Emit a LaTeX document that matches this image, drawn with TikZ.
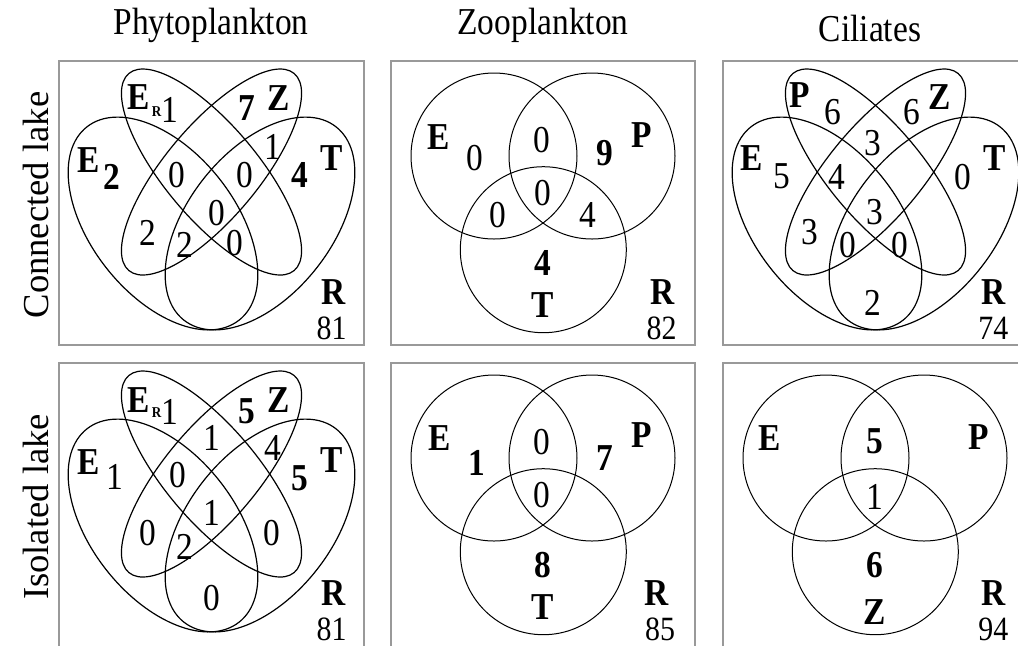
\documentclass[tikz,border=0pt]{standalone}
\usepackage{fontspec}
\setmainfont{Liberation Serif}[FakeStretch=0.88]
\newfontfamily\rowfont{Liberation Serif}
\definecolor{framegray}{gray}{0.6}
\begin{document}
\begin{tikzpicture}[x=0.5pt,y=-0.5pt,
  set/.style={line width=0.6pt},
  ring/.style={line width=0.5pt},
  panel/.style={draw=framegray,line width=1pt},
  lbl/.style={font=\fontsize{19}{19}\selectfont\bfseries,inner sep=0pt},
  num/.style={font=\fontsize{19}{19}\selectfont,inner sep=0pt},
  tot/.style={font=\fontsize{17}{17}\selectfont,inner sep=0pt},
  sub/.style={font=\fontsize{7.5}{7.5}\selectfont\bfseries,inner sep=0pt},
  head/.style={font=\fontsize{19}{19}\selectfont,inner sep=0pt},
  side/.style={font=\fontsize{18.3}{18.3}\rowfont,inner sep=0pt,rotate=90}]
\useasboundingbox (0,0) rectangle (1018,645);
\draw[panel] (59,61) rectangle (364,345);
\draw[panel] (391,61) rectangle (695,345);
\draw[panel] (723,61) rectangle (1030,345);
\draw[panel] (59,363) rectangle (364,660);
\draw[panel] (391,363) rectangle (695,660);
\draw[panel] (723,363) rectangle (1030,660);
\node[head] (phyto) at (211,25) {Phytoplankton};
\node[head] (zoo) at (543,25) {Zooplankton};
\node[head] (cil) at (870,28) {Ciliates};
\node[side] (conn) at (36,205) {Connected lake};
\node[side] (iso) at (36,507) {Isolated lake};
\foreach \ox/\oy in {0/0,0/302,664/0}{
  \begin{scope}[shift={(\ox,\oy)}]
  \draw[set,rotate around={-51.75:(163,223.5)}] (163,223.5) ellipse (123 and 72);
  \draw[set,rotate around={51.75:(260,223.5)}] (260,223.5) ellipse (123 and 72);
  \draw[set,rotate around={-50:(211.5,172)}] (211.5,172) ellipse (128.6 and 46.6);
  \draw[set,rotate around={50:(211.5,172)}] (211.5,172) ellipse (128.6 and 46.6);
  \end{scope}
}
\foreach \ox/\oy in {0/0,0/302,332/302}{
  \begin{scope}[shift={(\ox,\oy)}]
  \draw[ring] (494,156) circle (83);
  \draw[ring] (592,156) circle (83);
  \draw[ring] (543.3,249.7) circle (83);
  \end{scope}
}
% phytoplankton, connected
\node[lbl] (aE) at (88.3,160) {E};
\node[lbl] (aEn) at (111.7,176.7) {2};
\node[lbl] (aER) at (138.3,96.7) {E};
\node[sub] (aERs) at (156.7,111.7) {R};
\node[num] (aERn) at (170,110) {1};
\node[lbl] (aZn) at (246.7,108.3) {7};
\node[lbl] (aZ) at (278.3,98.3) {Z};
\node[num] (aZT) at (273.3,146.7) {1};
\node[lbl] (aT) at (331.7,158.3) {T};
\node[lbl] (aTn) at (300,175) {4};
\node[num] (a1) at (176.7,175) {0};
\node[num] (a2) at (245,175) {0};
\node[num] (a3) at (216.7,213.3) {0};
\node[num] (a4) at (148.3,233.3) {2};
\node[num] (a5) at (185,245) {2};
\node[num] (a6) at (235,243.3) {0};
\node[lbl] (aR) at (333.3,292) {R};
\node[tot] (aRn) at (331.7,328.5) {81};
% zooplankton, connected
\node[lbl] (bE) at (438.3,136.7) {E};
\node[num] (bEn) at (475,158.3) {0};
\node[num] (bEP) at (541.7,140) {0};
\node[lbl] (bPn) at (605,153.3) {9};
\node[lbl] (bP) at (641.7,135) {P};
\node[num] (bEPT) at (543.3,193.3) {0};
\node[num] (bET) at (498.3,215) {0};
\node[num] (bPT) at (588.3,215) {4};
\node[lbl] (bTn) at (542.7,263.3) {4};
\node[lbl] (bT) at (542.7,305) {T};
\node[lbl] (bR) at (663,292) {R};
\node[tot] (bRn) at (661.7,328.5) {82};
% ciliates, connected
\node[lbl] (cP) at (800,95) {P};
\node[num] (cPn) at (833.3,111.7) {6};
\node[num] (cZn) at (911.7,111.7) {6};
\node[lbl] (cZ) at (940,96.7) {Z};
\node[num] (c1) at (873.3,143.3) {3};
\node[lbl] (cE) at (751.7,158.3) {E};
\node[num] (cEn) at (781.7,176.7) {5};
\node[num] (c2) at (836.7,176.7) {4};
\node[num] (cTn) at (963.3,176.7) {0};
\node[lbl] (cT) at (995,158.3) {T};
\node[num] (c3) at (875,211.7) {3};
\node[num] (c4) at (810,231.7) {3};
\node[num] (c5) at (848.3,245) {0};
\node[num] (c6) at (900,245) {0};
\node[num] (c7) at (873.3,303.3) {2};
\node[lbl] (cR) at (993.3,292) {R};
\node[tot] (cRn) at (993.3,328.5) {74};
% phytoplankton, isolated
\node[lbl] (dE) at (88.3,461.7) {E};
\node[num] (dEn) at (115,476.7) {1};
\node[lbl] (dER) at (138.3,400) {E};
\node[sub] (dERs) at (156.7,413) {R};
\node[num] (dERn) at (170,411.7) {1};
\node[lbl] (dZn) at (246.7,411.7) {5};
\node[lbl] (dZ) at (278.3,400) {Z};
\node[num] (d1) at (211.7,438.3) {1};
\node[num] (d2) at (273.3,448.3) {4};
\node[lbl] (dT) at (331.7,460) {T};
\node[lbl] (dTn) at (300,478.3) {5};
\node[num] (d3) at (178.3,475) {0};
\node[num] (d4) at (211.7,513.3) {1};
\node[num] (d5) at (148.3,533.3) {0};
\node[num] (d6) at (185,546.7) {2};
\node[num] (d7) at (271.7,533.3) {0};
\node[num] (d8) at (211.7,598.3) {0};
\node[lbl] (dR) at (333.3,593) {R};
\node[tot] (dRn) at (331.7,629.5) {81};
% zooplankton, isolated
\node[lbl] (eE) at (440,438.3) {E};
\node[lbl] (eEn) at (476.7,463.3) {1};
\node[num] (eEP) at (541.7,441.7) {0};
\node[lbl] (ePn) at (605,458.3) {7};
\node[lbl] (eP) at (641.7,435) {P};
\node[num] (eEPT) at (541.7,495) {0};
\node[lbl] (eTn) at (542.7,565) {8};
\node[lbl] (eT) at (542.7,606.7) {T};
\node[lbl] (eR) at (657,593) {R};
\node[tot] (eRn) at (660,629.5) {85};
% ciliates, isolated
\node[lbl] (fE) at (770,438.3) {E};
\node[lbl] (fEP) at (875,441.7) {5};
\node[lbl] (fP) at (978.3,436.7) {P};
\node[num] (fEPZ) at (875,496.7) {1};
\node[lbl] (fZn) at (875,565) {6};
\node[lbl] (fZ) at (875,611.7) {Z};
\node[lbl] (fR) at (993.3,593) {R};
\node[tot] (fRn) at (993.3,629.5) {94};
\end{tikzpicture}
\end{document}
